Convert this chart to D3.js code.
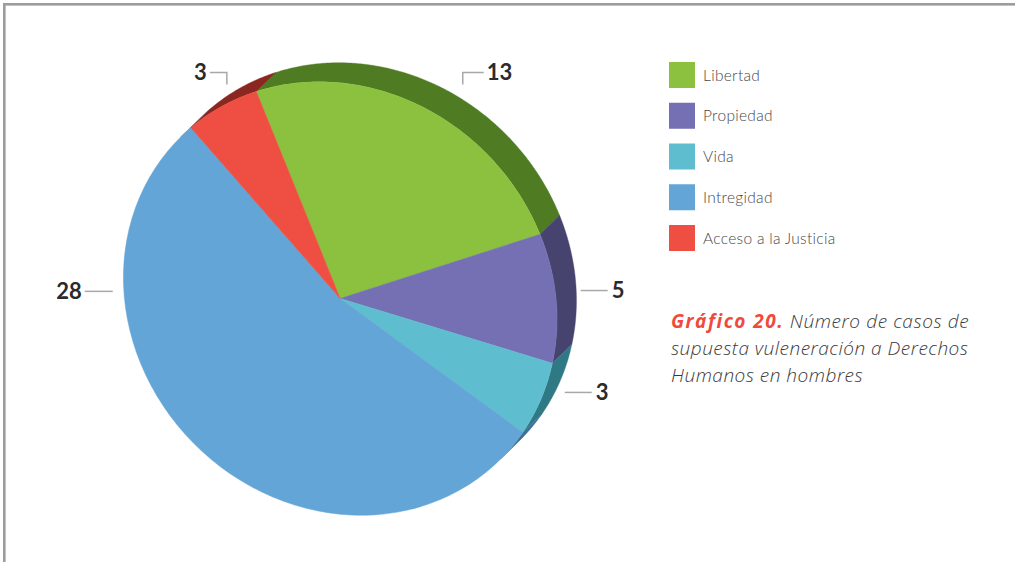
<!DOCTYPE html>
<html lang="es">
<head>
<meta charset="utf-8">
<script src="https://cdn.jsdelivr.net/npm/d3@7"></script>
<style>
  html, body { margin: 0; padding: 0; background: #ffffff; }
  svg { display: block; }
</style>
</head>
<body>
<svg id="chart" width="1015" height="562"></svg>
<script>
// Casos de supuesta vulneración a Derechos Humanos en hombres
const categories = ["Libertad", "Propiedad", "Vida", "Intregidad", "Acceso a la Justicia"];
const values = [13, 5, 3, 28, 3];
const valueLabels = ["13", "5", "3", "28", "3"];
const captionLead = "Gráfico 20.";
const captionLines = [" Número de casos de", "supuesta vuleneración a Derechos", "Humanos en hombres"];

// Colours: top face and the darker side wall of each slice
const topColors  = ["#8bc13f", "#7470b3", "#5fbdd0", "#62a5d6", "#ee4f42"];
const sideColors = ["#4f7b22", "#47436f", "#2f7985", "#3e6f97", "#8a2720"];

// Layout
const cx = 340.2, cy = 298.5, R0 = 216.7;
const semiMajor = 227, semiMinor = 206;        // tilted disc: squeezed along the up-right diagonal
const depth = { dx: 19.5, dy: -19 };           // offset of the back face
const startDeg = -20;                           // where the first slice begins (disc frame)
const labelLayout = [                           // leader anchor: screen angle (deg), radius, kind
  { ang: 29.8,  r: 246.6, kind: "elbowR" },
  { ang: 88.1,  r: 240.6, kind: "right" },
  { ang: 112.7, r: 243.4, kind: "right" },
  { ang: 271.8, r: 227.6, kind: "left" },
  { ang: -27.9, r: 242.2, kind: "elbowL" }
];

const svg = d3.select("#chart");

// frame lines
svg.append("rect").attr("x", 3).attr("y", 3).attr("width", 1012).attr("height", 2.6).attr("fill", "#9c9c9c");
svg.append("rect").attr("x", 3).attr("y", 3).attr("width", 2.6).attr("height", 559).attr("fill", "#9c9c9c");

const rad = d => d * Math.PI / 180;
const pie = d3.pie().sort(null).value(d => d)
  .startAngle(rad(startDeg)).endAngle(rad(startDeg) + 2 * Math.PI);
const arcs = pie(values);

// linear map of the disc onto the screen (symmetric, axes on the diagonals)
const ka = semiMajor / R0, kb = semiMinor / R0;
const mA = (ka + kb) / 2, mB = (ka - kb) / 2;
const project = (x, y) => [mA * x + mB * y, mB * x + mA * y];
const ptAt = (a, ox, oy) => {
  const p = project(R0 * Math.sin(a), -R0 * Math.cos(a));
  return [cx + ox + p[0], cy + oy + p[1]];
};
// wall faces the viewer between the ends of the long axis (-45° .. 135°)
const facing = a => Math.sin(a + Math.PI / 4);

const g = svg.append("g");
const wallLine = d3.line();
arcs.forEach((a, i) => {
  const n = Math.max(2, Math.ceil((a.endAngle - a.startAngle) / rad(0.5)));
  const angs = d3.range(n + 1).map(k => a.startAngle + (a.endAngle - a.startAngle) * k / n);
  const runs = [];
  let cur = [];
  angs.forEach(t => {
    if (facing(t) > -0.0005) cur.push(t);
    else if (cur.length) { runs.push(cur); cur = []; }
  });
  if (cur.length) runs.push(cur);
  runs.forEach(run => {
    if (run.length < 2) return;
    const front = run.map(t => ptAt(t, 0, 0));
    const back = run.slice().reverse().map(t => ptAt(t, depth.dx, depth.dy));
    g.append("path")
      .attr("d", wallLine(front.concat(back)) + "Z")
      .attr("fill", sideColors[i])
      .attr("stroke", sideColors[i])
      .attr("stroke-width", 0.4);
  });
});

// top face
const arcGen = d3.arc().innerRadius(0).outerRadius(R0);
g.append("g")
  .attr("transform", `matrix(${mA},${mB},${mB},${mA},${cx},${cy})`)
  .selectAll("path")
  .data(arcs)
  .join("path")
  .attr("d", arcGen)
  .attr("fill", (d, i) => topColors[i])
  .attr("stroke", (d, i) => topColors[i])
  .attr("stroke-width", 0.5);

// value labels with leader lines
const labelG = svg.append("g");
const lineColor = "#a8a8a8";
labelLayout.forEach((L, i) => {
  const t = rad(L.ang);
  const x0 = cx + L.r * Math.sin(t), y0 = cy - L.r * Math.cos(t);
  let pts, tx, ty, anchor;
  if (L.kind === "elbowR") {
    pts = [[x0, y0], [x0, y0 - 12], [x0 + 21, y0 - 12]];
    tx = x0 + 24; ty = y0 - 12; anchor = "start";
  } else if (L.kind === "elbowL") {
    pts = [[x0, y0], [x0, y0 - 12], [x0 - 17, y0 - 12]];
    tx = x0 - 20; ty = y0 - 12; anchor = "end";
  } else if (L.kind === "right") {
    pts = [[x0, y0], [x0 + 27, y0]];
    tx = x0 + 31; ty = y0; anchor = "start";
  } else {
    pts = [[x0, y0], [x0 - 28, y0]];
    tx = x0 - 31; ty = y0; anchor = "end";
  }
  labelG.append("path")
    .attr("d", d3.line()(pts))
    .attr("fill", "none")
    .attr("stroke", lineColor)
    .attr("stroke-width", 1.5);
  labelG.append("text")
    .attr("x", tx).attr("y", ty)
    .attr("dy", "0.36em")
    .attr("text-anchor", anchor)
    .attr("font-family", "Lato, 'Open Sans', sans-serif")
    .attr("font-weight", 700)
    .attr("font-size", 22)
    .attr("fill", "#2b2b2b")
    .text(valueLabels[i]);
});

// legend
const legend = svg.append("g").attr("transform", "translate(669,62)");
const legY = d3.scalePoint().domain(categories).range([0, 163]);
const items = legend.selectAll("g").data(categories).join("g")
  .attr("transform", d => `translate(0,${legY(d)})`);
items.append("rect").attr("width", 26).attr("height", 26)
  .attr("fill", (d, i) => topColors[i]);
items.append("text")
  .attr("x", 34).attr("y", 13).attr("dy", "0.36em")
  .attr("font-family", "Lato, 'Open Sans', sans-serif")
  .attr("font-size", 15.5)
  .attr("font-weight", 300)
  .attr("letter-spacing", 0.3)
  .attr("fill", "#474747")
  .text(d => d);

// caption
const cap = svg.append("g").attr("transform", "translate(671,0)");
const capFont = "'Open Sans', Lato, sans-serif";
const l1 = cap.append("text").attr("x", 0).attr("y", 328)
  .attr("font-family", capFont).attr("font-size", 19).attr("font-style", "italic");
l1.append("tspan").attr("font-weight", 700).attr("letter-spacing", 1.5).attr("fill", "#ef4a3c").text(captionLead);
l1.append("tspan").attr("fill", "#3a3a3a").attr("font-weight", 300).attr("letter-spacing", 0.6).text(captionLines[0]);
captionLines.slice(1).forEach((s, k) => {
  cap.append("text").attr("x", 0).attr("y", 355 + 27 * k)
    .attr("font-family", capFont).attr("font-size", 19).attr("font-style", "italic")
    .attr("font-weight", 300).attr("letter-spacing", 0.5)
    .attr("fill", "#3a3a3a").text(s);
});
</script>
</body>
</html>
